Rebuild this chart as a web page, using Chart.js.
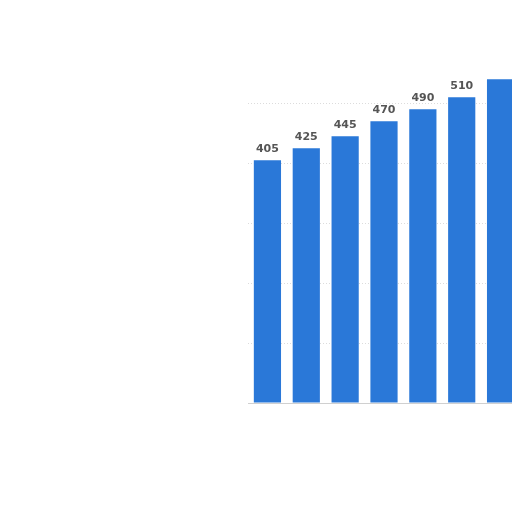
<!DOCTYPE html>
<html lang="en">
<head>
  <meta charset="UTF-8">
  <title>Bar chart</title>
  <script src="https://cdn.jsdelivr.net/npm/chart.js"></script>
  <style>
    html, body { margin: 0; padding: 0; background: #fff; overflow: hidden; width: 512px; height: 512px; }
    #chart { position: absolute; left: 248px; top: 75px; }
  </style>
</head>
<body>
  <canvas id="chart" width="272" height="336"></canvas>

  <script>
    // values (last bar is cut off at the right edge)
    const categories = ['1', '2', '3', '4', '5', '6', '7'];
    const values = [405, 425, 445, 470, 490, 510, 540];
    const gridTicks = [0, 100, 200, 300, 400, 500];

    // draws the number above each bar
    const valueLabels = {
      id: 'valueLabels',
      afterDatasetsDraw(chart) {
        const ctx = chart.ctx;
        const meta = chart.getDatasetMeta(0);
        ctx.save();
        ctx.font = 'bold 11px "DejaVu Sans", sans-serif';
        ctx.fillStyle = '#555';
        ctx.textAlign = 'center';
        ctx.textBaseline = 'bottom';
        meta.data.forEach((bar, i) => {
          ctx.fillText(values[i], bar.x, bar.y - 6);
        });
        ctx.restore();
      }
    };

    new Chart(document.getElementById('chart'), {
      type: 'bar',
      data: {
        labels: categories,
        datasets: [{
          data: values,
          backgroundColor: '#2a78d8',
          categoryPercentage: 1,
          barPercentage: 0.7
        }]
      },
      options: {
        responsive: false,
        animation: false,
        layout: { padding: 0 },
        plugins: { legend: { display: false }, tooltip: { enabled: false } },
        scales: {
          x: {
            ticks: { display: false },
            grid: { display: false },
            border: { color: '#d0d0d0' }
          },
          y: {
            min: 0,
            max: 547,
            afterBuildTicks(axis) { axis.ticks = gridTicks.map(v => ({ value: v })); },
            ticks: { display: false },
            grid: { color: '#dcdcdc', drawTicks: false },
            border: { display: false, dash: [1, 2] }
          }
        }
      },
      plugins: [valueLabels]
    });
  </script>
</body>
</html>
